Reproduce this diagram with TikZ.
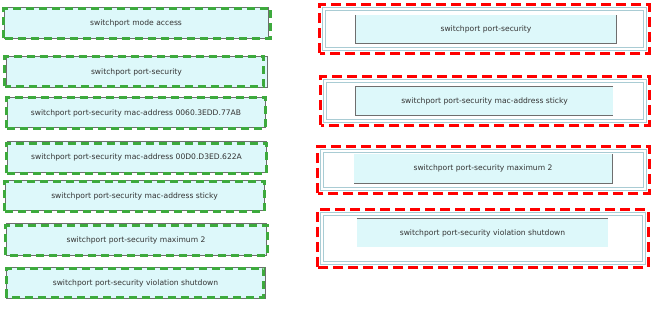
\documentclass[tikz,border=0pt]{standalone}
\usepackage{fontspec}
\setmainfont{DejaVu Sans}
\definecolor{cyanfill}{HTML}{DDF8FA}
\definecolor{boxgray}{HTML}{6E6E6E}
\definecolor{dgreen}{HTML}{3DAA3D}
\definecolor{frameblue}{HTML}{A9CCD4}
\definecolor{txt}{HTML}{333333}
\tikzset{
  cmd/.style={fill=cyanfill, inner sep=0pt, text=txt, font=\fontsize{7.6}{9}\selectfont},
  lbox/.style={cmd, draw=boxgray, line width=1pt},
  greendash/.style={draw=dgreen, line width=2.6pt, dash pattern=on 8pt off 5pt},
  reddash/.style={draw=red, line width=3pt, dash pattern=on 10pt off 5pt},
  slot/.style={inner sep=0pt, draw=none},
  frameline/.style={draw=frameblue, line width=0.9pt},
  edge/.style={draw=boxgray, line width=1.2pt}
}
\begin{document}
\begin{tikzpicture}[x=1pt,y=-1pt]
\useasboundingbox[fill=white] (0,0) rectangle (661,312);
% left column
\node[lbox, minimum width=264pt, minimum height=31pt] (l1) at (136,23.5) {switchport mode access};
\node[lbox, minimum width=261pt, minimum height=31pt] (l2) at (136.5,72.5) {switchport port-security};
\node[lbox, minimum width=258pt, minimum height=30pt] (l3) at (136,113) {switchport port-security mac-address 0060.3EDD.77AB};
\node[lbox, minimum width=259pt, minimum height=31pt] (l4) at (136.5,157.5) {switchport port-security mac-address 00D0.D3ED.622A};
\node[lbox, minimum width=259pt, minimum height=30pt] (l5) at (134.5,196) {switchport port-security mac-address sticky};
\node[lbox, minimum width=260pt, minimum height=32pt] (l6) at (136,240) {switchport port-security maximum 2};
\node[lbox, minimum width=259pt, minimum height=30pt] (l7) at (135.5,283) {switchport port-security violation shutdown};
\draw[greendash] ([shift={(0,-1)}]l1.south west) rectangle ([shift={(2,1)}]l1.north east);
\draw[greendash] ([shift={(-1,-2)}]l2.south west) rectangle ([shift={(-4,0)}]l2.north east);
\draw[greendash] ([shift={(0,0)}]l3.south west) rectangle ([shift={(0,0)}]l3.north east);
\draw[greendash] ([shift={(0,0)}]l4.south west) rectangle ([shift={(0,2)}]l4.north east);
\draw[greendash] ([shift={(0,0)}]l5.south west) rectangle ([shift={(0,1)}]l5.north east);
\draw[greendash] ([shift={(0,-1)}]l6.south west) rectangle ([shift={(1,2)}]l6.north east);
\draw[greendash] ([shift={(1,-1)}]l7.south west) rectangle ([shift={(-2,1)}]l7.north east);
% right column: slots
\node[slot, minimum width=329pt, minimum height=48pt] (r1) at (484.5,29) {};
\node[slot, minimum width=328pt, minimum height=48pt] (r2) at (485,101) {};
\node[slot, minimum width=331pt, minimum height=46pt] (r3) at (483.5,170) {};
\node[slot, minimum width=330pt, minimum height=57pt] (r4) at (483,238.5) {};
\foreach \r in {r1,r2,r3,r4}{
  \draw[frameline] ([shift={(3,-3)}]\r.south west) rectangle ([shift={(-3,3)}]\r.north east);
  \draw[frameline] ([shift={(5.5,-5.5)}]\r.south west) rectangle ([shift={(-5.5,5.5)}]\r.north east);
}
% inner commands
\node[cmd, minimum width=260pt, minimum height=28pt] (c1) at (486,29) {switchport port-security};
\node[cmd, minimum width=257pt, minimum height=28pt] (c2) at (484.5,101) {switchport port-security mac-address sticky};
\node[cmd, minimum width=258pt, minimum height=29pt] (c3) at (483,168.5) {switchport port-security maximum 2};
\node[cmd, minimum width=251pt, minimum height=28pt] (c4) at (482.5,233) {switchport port-security violation shutdown};
\draw[edge] (c1.north west) -- (c1.south west) -- (c1.south east) -- (c1.north east);
\draw[edge] (c2.north east) -- (c2.north west) -- (c2.south west) -- (c2.south east);
\draw[edge] (c3.north east) -- (c3.south east) -- (c3.south west);
\draw[edge] (c4.north west) -- (c4.north east);
\foreach \r in {r1,r2,r3,r4}{
  \draw[reddash] (\r.south west) rectangle (\r.north east);
}
\end{tikzpicture}
\end{document}
